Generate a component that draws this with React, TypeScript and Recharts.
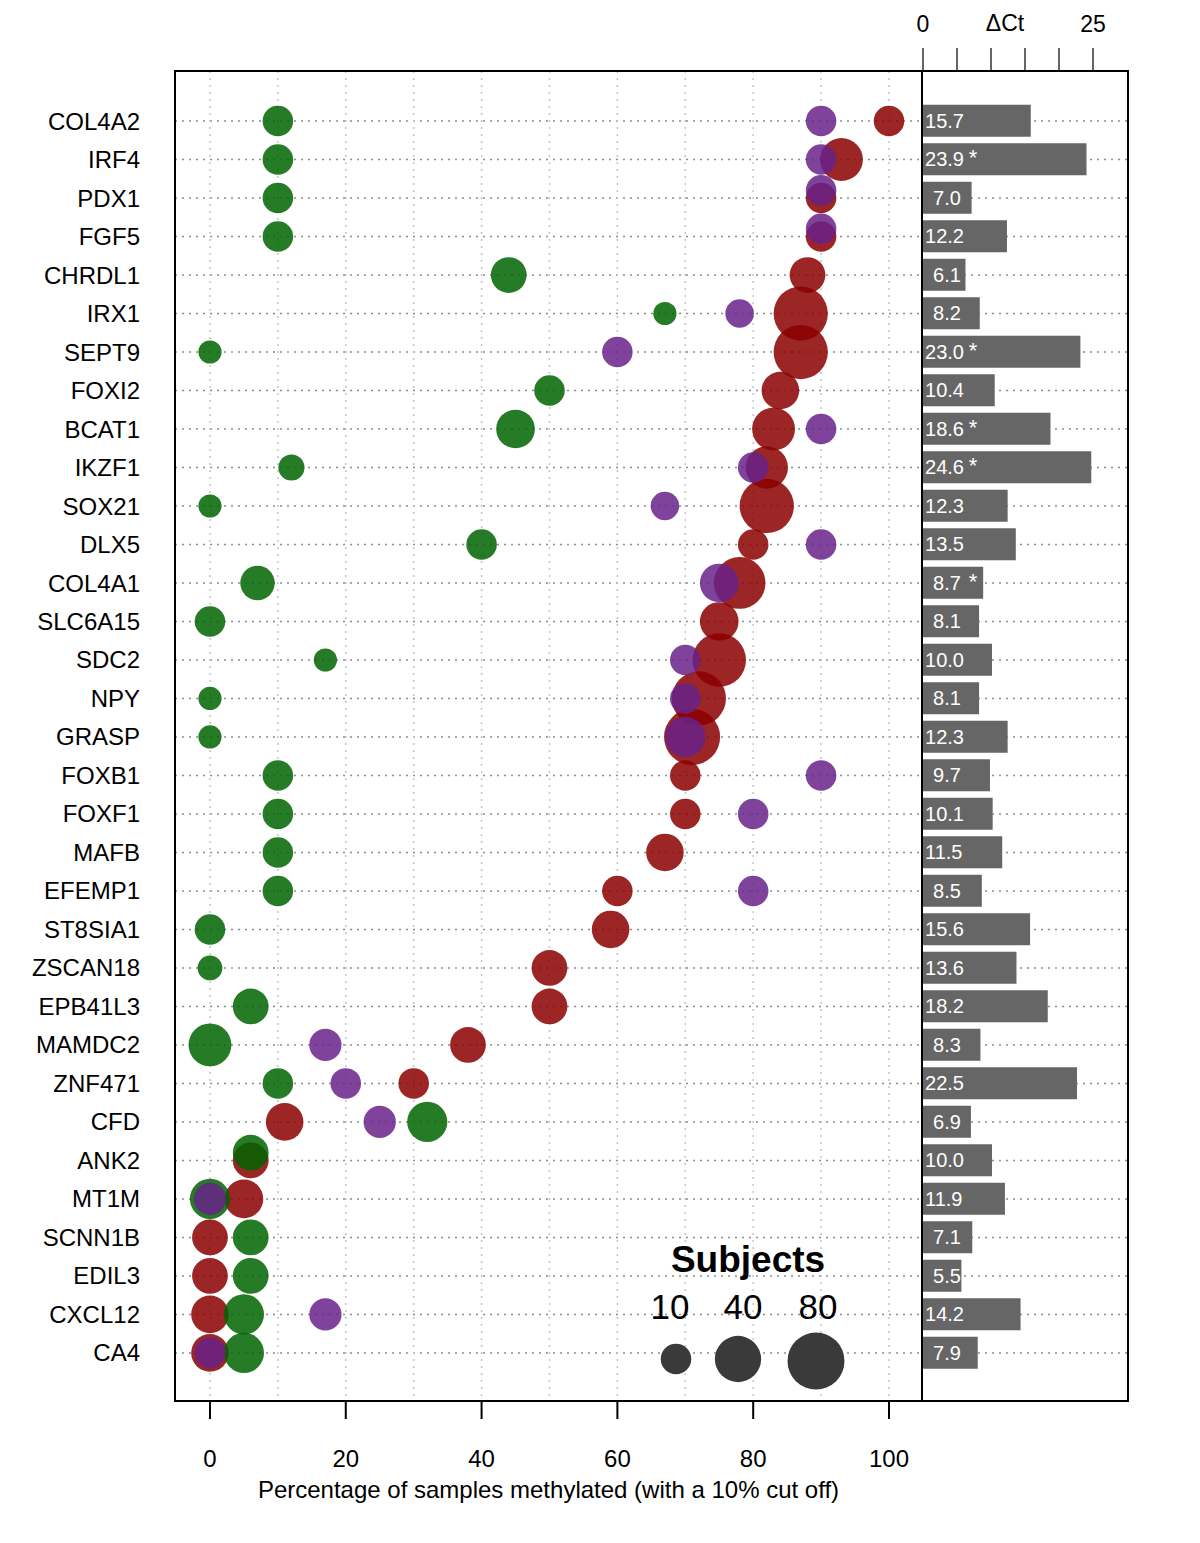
import { ScatterChart, Scatter, BarChart, Bar, XAxis, YAxis, CartesianGrid, LabelList } from 'recharts';

const FONT = '"Liberation Sans", Arial, Helvetica, sans-serif';

const genes = [
  'COL4A2', 'IRF4', 'PDX1', 'FGF5', 'CHRDL1', 'IRX1', 'SEPT9', 'FOXI2', 'BCAT1', 'IKZF1', 'SOX21',
  'DLX5', 'COL4A1', 'SLC6A15', 'SDC2', 'NPY', 'GRASP', 'FOXB1', 'FOXF1', 'MAFB', 'EFEMP1', 'ST8SIA1',
  'ZSCAN18', 'EPB41L3', 'MAMDC2', 'ZNF471', 'CFD', 'ANK2', 'MT1M', 'SCNN1B', 'EDIL3', 'CXCL12', 'CA4',
];

// % methylated and number of subjects, one pair of lists per group (null = not shown)
const greenPct = [10, 10, 10, 10, 44, 67, 0, 50, 45, 12, 0, 40, 7, 0, 17, 0, 0, 10, 10, 10, 10, 0, 0, 6, 0, 10, 32, 6, 0, 6, 6, 5, 5];
const greenN = [10, 10, 10, 10, 17, 4, 4, 10, 22, 6, 4, 10, 15, 10, 4, 4, 4, 10, 10, 10, 10, 10, 5, 17, 31, 10, 25, 17, 25, 17, 17, 25, 25];
const purplePct = [90, 90, 90, 90, null, 78, 60, null, 90, 80, 67, 90, 75, null, 70, 70, 70, 90, 80, null, 80, null, null, null, 17, 20, 25, null, 0, null, null, 17, 0];
const purpleN = [10, 10, 10, 10, null, 8, 10, null, 10, 10, 8, 10, 22, null, 10, 10, 25, 10, 10, null, 10, null, null, null, 12, 10, 12, null, 12, null, null, 12, 10];
const redPct = [100, 93, 90, 90, 88, 87, 87, 84, 83, 82, 82, 80, 78, 75, 75, 72, 71, 70, 70, 67, 60, 59, 50, 50, 38, 30, 11, 6, 5, 0, 0, 0, 0];
const redN = [10, 31, 10, 10, 17, 68, 68, 20, 31, 30, 68, 10, 58, 22, 65, 68, 76, 10, 10, 20, 10, 20, 17, 17, 17, 10, 20, 17, 22, 17, 17, 20, 20];

const deltaCt = [15.7, 23.9, 7.0, 12.2, 6.1, 8.2, 23.0, 10.4, 18.6, 24.6, 12.3, 13.5, 8.7, 8.1, 10.0, 8.1, 12.3, 9.7, 10.1, 11.5, 8.5, 15.6, 13.6, 18.2, 8.3, 22.5, 6.9, 10.0, 11.9, 7.1, 5.5, 14.2, 7.9];
const significant = ['IRF4', 'SEPT9', 'BCAT1', 'IKZF1', 'COL4A1'];

const xTicks = [0, 20, 40, 60, 80, 100];
const gridX = [0, 10, 20, 30, 40, 50, 60, 70, 80, 90, 100];
const dctTicks = [0, 5, 10, 15, 20, 25];
const legendSizes = [10, 40, 80];

const GREEN = '#006400';
const PURPLE = '#68228B';
const RED = '#8B0000';

const radius = (n: number) => 7.65 * Math.pow(n, 0.3);

// overlapping dots get pushed up a little, as in the original
function points(pct: (number | null)[], n: (number | null)[], nudged: string[] = []) {
  return genes.flatMap((g, i) =>
    pct[i] == null ? [] : [{ gene: g, x: pct[i], y: i - (nudged.includes(g) ? 0.2 : 0), n: n[i] }]
  );
}

const redPts = points(redPct, redN);
const greenPts = points(greenPct, greenN, ['ANK2']);
const purplePts = points(purplePct, purpleN, ['PDX1', 'FGF5']);

const barData = genes.map((g, i) => ({ gene: g, dct: deltaCt[i] }));

const dot = (fill: string) => (p: any) => (
  <circle cx={p.cx} cy={p.cy} r={radius(p.payload.n)} fill={fill} fillOpacity={0.85} />
);

function barLabel(p: any) {
  const { x, y, height, value, index } = p;
  const cy = y + height / 2;
  return (
    <g fontFamily={FONT}>
      <text x={x + (value < 10 ? 10 : 2)} y={cy} dy="0.36em" fill="#fff" fontSize={20}>
        {Number(value).toFixed(1)}
      </text>
      {significant.includes(genes[index]) && (
        <text x={x + 50} y={cy + 6} textAnchor="middle" fill="#fff" fontSize={22}>*</text>
      )}
    </g>
  );
}

export default function App() {
  return (
    <div style={{ position: 'absolute', left: 0, top: 0, width: 1200, height: 1543, background: '#fff', fontFamily: FONT }}>
      <div style={{ position: 'absolute', left: 0, top: 0 }}>
        <ScatterChart width={922} height={1543} margin={{ top: 71, right: 0, bottom: 0, left: 0 }}>
          <CartesianGrid vertical={false} stroke="#8c8c8c" strokeDasharray="2 5" strokeWidth={1.5} />
          <CartesianGrid horizontal={false} verticalValues={gridX} stroke="#c4c4c4" strokeDasharray="2 5" strokeWidth={1.5} />
          <XAxis
            type="number"
            dataKey="x"
            domain={[-5.15, 104.86]}
            ticks={xTicks}
            height={142}
            tickSize={18}
            tickMargin={31}
            axisLine={false}
            tickLine={{ stroke: '#000', strokeWidth: 2 }}
            tick={{ fontSize: 24, fill: '#000', fontFamily: FONT }}
            label={{ value: 'Percentage of samples methylated (with a 10% cut off)', position: 'insideBottom', offset: 45, fontSize: 24, fill: '#000', fontFamily: FONT }}
          />
          <YAxis
            type="number"
            dataKey="y"
            domain={[-1.3, 33.25]}
            reversed
            ticks={genes.map((_, i) => i)}
            interval={0}
            width={175}
            tickSize={0}
            tickMargin={35}
            axisLine={false}
            tickLine={false}
            tickFormatter={(v: number) => genes[v] ?? ''}
            tick={{ fontSize: 24, fill: '#000', fontFamily: FONT }}
          />
          <Scatter data={redPts} shape={dot(RED)} isAnimationActive={false} />
          <Scatter data={greenPts} shape={dot(GREEN)} isAnimationActive={false} />
          <Scatter data={purplePts} shape={dot(PURPLE)} isAnimationActive={false} />
        </ScatterChart>
      </div>

      <div style={{ position: 'absolute', left: 900, top: 0 }}>
        <BarChart width={228} height={1543} layout="vertical" data={barData} margin={{ top: 0, right: 0, bottom: 142, left: 22 }}>
          <CartesianGrid vertical={false} stroke="#8c8c8c" strokeDasharray="2 5" strokeWidth={1.5} />
          <XAxis
            type="number"
            orientation="top"
            domain={[-0.15, 30.15]}
            ticks={dctTicks}
            height={71}
            tickSize={23}
            tickMargin={16}
            axisLine={false}
            tickLine={{ stroke: '#666', strokeWidth: 2 }}
            tick={{ fontSize: 23, fill: '#000', fontFamily: FONT }}
            tickFormatter={(v: number) => (v === 0 || v === 25 ? String(v) : '')}
          />
          <YAxis type="category" dataKey="gene" hide padding={{ top: 30.75, bottom: 28.75 }} />
          <Bar dataKey="dct" fill="#666666" stroke="#666666" strokeWidth={2} barSize={30} isAnimationActive={false}>
            <LabelList dataKey="dct" content={barLabel} />
          </Bar>
        </BarChart>
      </div>

      {/* frame and panel divider */}
      <div style={{ position: 'absolute', left: 174, top: 70, width: 955, height: 1332, border: '2px solid #000', boxSizing: 'border-box', pointerEvents: 'none' }} />
      <div style={{ position: 'absolute', left: 921, top: 70, width: 2, height: 1332, background: '#000', pointerEvents: 'none' }} />

      <svg width={1200} height={1543} style={{ position: 'absolute', left: 0, top: 0, pointerEvents: 'none' }} fontFamily={FONT}>
        <text x={1005} y={31} textAnchor="middle" fontSize={23} fill="#000">ΔCt</text>
        <text x={748} y={1272} textAnchor="middle" fontSize={37} fontWeight="bold" fill="#000">Subjects</text>
        {legendSizes.map((n, i) => (
          <g key={n}>
            <text x={[670, 743, 818][i]} y={1319} textAnchor="middle" fontSize={35} fill="#000">{n}</text>
            <circle cx={[676, 738, 816][i]} cy={[1359, 1359, 1361][i]} r={radius(n)} fill="#3a3a3a" />
          </g>
        ))}
      </svg>
    </div>
  );
}
